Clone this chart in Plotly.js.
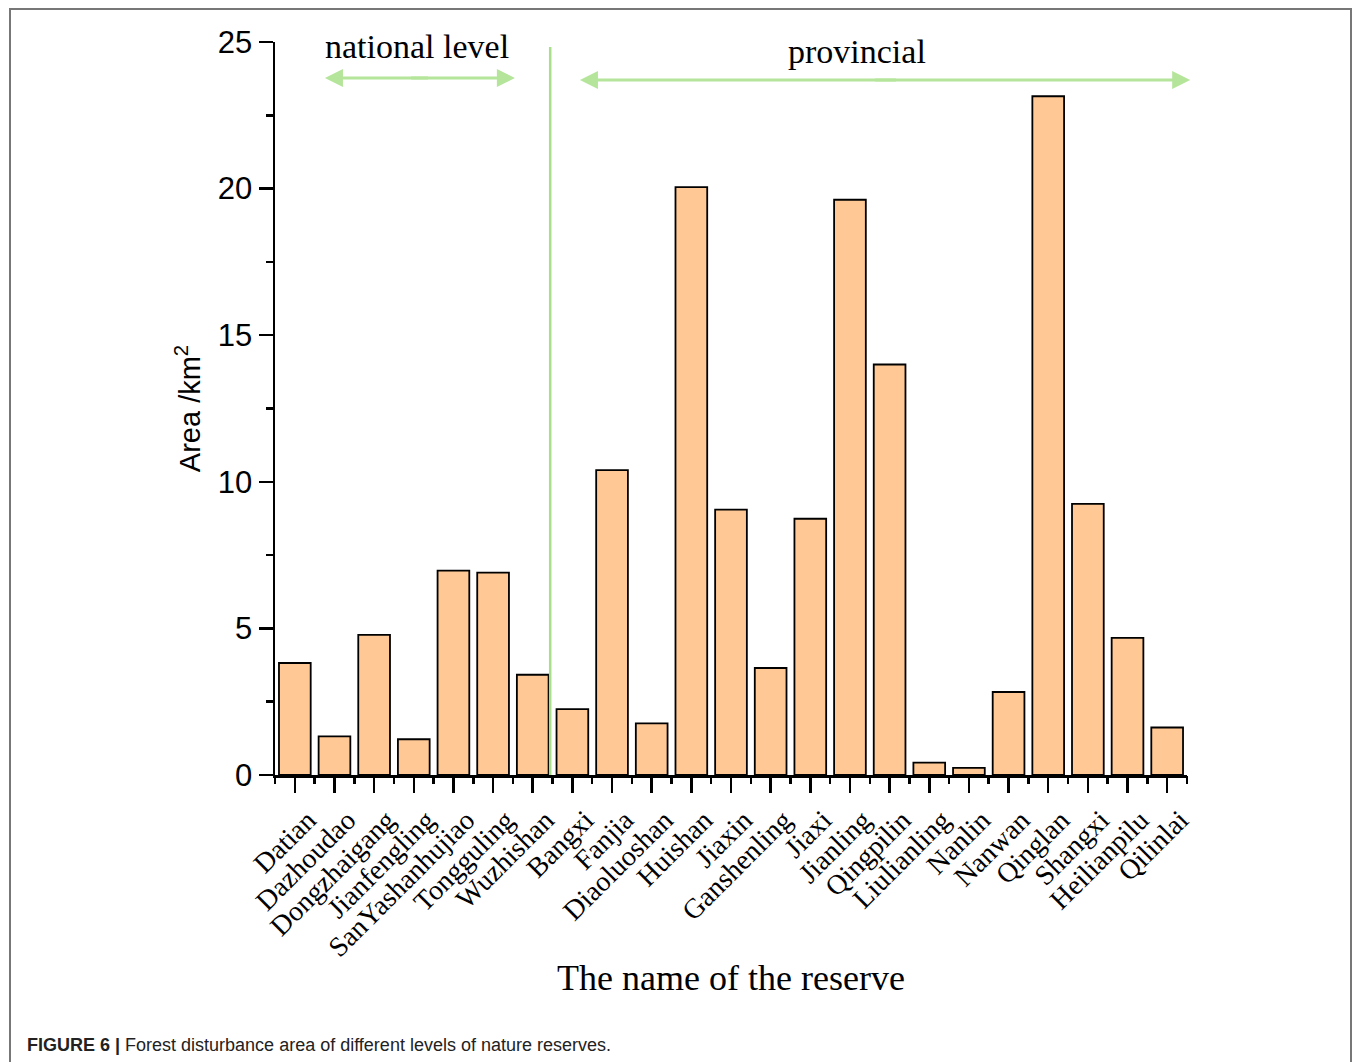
<!DOCTYPE html>
<html>
<head>
<meta charset="utf-8">
<script src="https://cdn.plot.ly/plotly-3.0.1.min.js"></script>
<style>
  html, body { margin: 0; padding: 0; background: #fff; }
  #wrap { position: relative; width: 1355px; height: 1062px; overflow: hidden; }
  #frame { position: absolute; left: 9px; top: 8px; width: 1343px; height: 1100px;
           border: 2px solid #777; border-bottom: none; box-sizing: border-box; pointer-events: none; }
  #chart { position: absolute; left: 0; top: 0; width: 1355px; height: 1062px; }
</style>
</head>
<body>
<div id="wrap">
  <div id="chart"></div>
  <div id="frame"></div>
</div>
<script>
const reserves = ["Datian","Dazhoudao","Dongzhaigang","Jianfengling","SanYashanhujiao","Tongguling","Wuzhishan",
  "Bangxi","Fanjia","Diaoluoshan","Huishan","Jiaxin","Ganshenling","Jiaxi","Jianling","Qingpilin",
  "Liulianling","Nanlin","Nanwan","Qinglan","Shangxi","Heilianpilu","Qilinlai"];
const areas = [3.82,1.32,4.78,1.22,6.97,6.9,3.42,
  2.25,10.4,1.76,20.05,9.05,3.65,8.74,19.62,14.0,
  0.42,0.24,2.83,23.15,9.25,4.68,1.62];
const levelLabels = ["national level","provincial"];
const yTicks = [0,5,10,15,20,25];

const bars = {
  type: 'bar', x: reserves, y: areas, xaxis: 'x', yaxis: 'y',
  marker: { color: '#FFC894', line: { color: '#000', width: 1.8 } },
  hoverinfo: 'x+y'
};
const ghost = {
  type: 'scatter', x: reserves, y: reserves.map(() => 0), xaxis: 'x2', yaxis: 'y',
  mode: 'markers', marker: { opacity: 0, size: 1 }, hoverinfo: 'skip', showlegend: false
};

const green = '#b4e59a';
const serif = 'Liberation Serif, Times New Roman, serif';
const sans = 'Liberation Sans, Arial, sans-serif';
const layout = {
  width: 1355, height: 1062,
  margin: { l: 275, r: 168, t: 42, b: 287 },
  paper_bgcolor: 'rgba(0,0,0,0)', plot_bgcolor: 'rgba(0,0,0,0)',
  showlegend: false,
  bargap: 0.2,
  xaxis: {
    type: 'category', range: [-0.5, 22.5], categoryarray: reserves, categoryorder: 'array',
    showline: true, linecolor: '#000', linewidth: 2.5,
    ticks: 'outside', ticklen: 15, tickwidth: 2.5, tickcolor: '#000',
    tickangle: -45, ticklabelshift: 13,
    tickfont: { family: serif, size: 28, color: '#000' },
    showgrid: false, zeroline: false,
    title: { text: 'The name of the reserve', standoff: 3,
      font: { family: serif, size: 36, color: '#000' } }
  },
  xaxis2: {
    type: 'category', range: [-0.5, 22.5], categoryarray: reserves, categoryorder: 'array',
    overlaying: 'x', anchor: 'y', side: 'bottom',
    tickson: 'boundaries', ticks: 'outside', ticklen: 8, tickwidth: 2.5, tickcolor: '#000',
    showticklabels: false, showgrid: false, zeroline: false, showline: false
  },
  yaxis: {
    range: [0, 25], tickvals: yTicks,
    showline: true, linecolor: '#000', linewidth: 2.5,
    ticks: 'outside', ticklen: 14, tickwidth: 2.5, tickcolor: '#000',
    minor: { dtick: 2.5, ticks: 'outside', ticklen: 7, tickwidth: 2.5, tickcolor: '#000', showgrid: false },
    tickfont: { family: sans, size: 31, color: '#000' },
    showgrid: false, zeroline: false,
    title: { text: 'Area /km<sup>2</sup>', standoff: 9,
      font: { family: sans, size: 29, color: '#000' } }
  },
  shapes: [
    { type: 'line', xref: 'x', yref: 'y', x0: 6.44, x1: 6.44, y0: 0, y1: 24.83,
      line: { color: '#a9de8a', width: 2.5 } }
  ],
  annotations: [
    { xref: 'x', yref: 'y', x: 3.08, y: 24.85, text: levelLabels[0], showarrow: false, yanchor: 'middle',
      font: { family: serif, size: 34, color: '#000' } },
    { xref: 'x', yref: 'y', x: 14.18, y: 24.68, text: levelLabels[1], showarrow: false, yanchor: 'middle',
      font: { family: serif, size: 34, color: '#000' } },
    // national double arrow
    { xref: 'x', yref: 'y', axref: 'x', ayref: 'y', x: 0.76, y: 23.77, ax: 3.4, ay: 23.77, text: '',
      showarrow: true, arrowhead: 2, arrowsize: 1.2, arrowwidth: 3, arrowcolor: green },
    { xref: 'x', yref: 'y', axref: 'x', ayref: 'y', x: 5.55, y: 23.77, ax: 2.9, ay: 23.77, text: '',
      showarrow: true, arrowhead: 2, arrowsize: 1.2, arrowwidth: 3, arrowcolor: green },
    // provincial double arrow
    { xref: 'x', yref: 'y', axref: 'x', ayref: 'y', x: 7.19, y: 23.7, ax: 15.2, ay: 23.7, text: '',
      showarrow: true, arrowhead: 2, arrowsize: 1.2, arrowwidth: 3, arrowcolor: green },
    { xref: 'x', yref: 'y', axref: 'x', ayref: 'y', x: 22.58, y: 23.7, ax: 14.6, ay: 23.7, text: '',
      showarrow: true, arrowhead: 2, arrowsize: 1.2, arrowwidth: 3, arrowcolor: green },
    // caption
    { xref: 'paper', yref: 'paper', x: (25 - 275) / 912, y: (775 - 1045) / 733, xanchor: 'left', yanchor: 'middle',
      showarrow: false, align: 'left',
      text: '<b>FIGURE 6 |</b> Forest disturbance area of different levels of nature reserves.',
      font: { family: sans, size: 18, color: '#222' } }
  ]
};

Plotly.newPlot('chart', [bars, ghost], layout, { displayModeBar: false, staticPlot: true });
</script>
</body>
</html>
